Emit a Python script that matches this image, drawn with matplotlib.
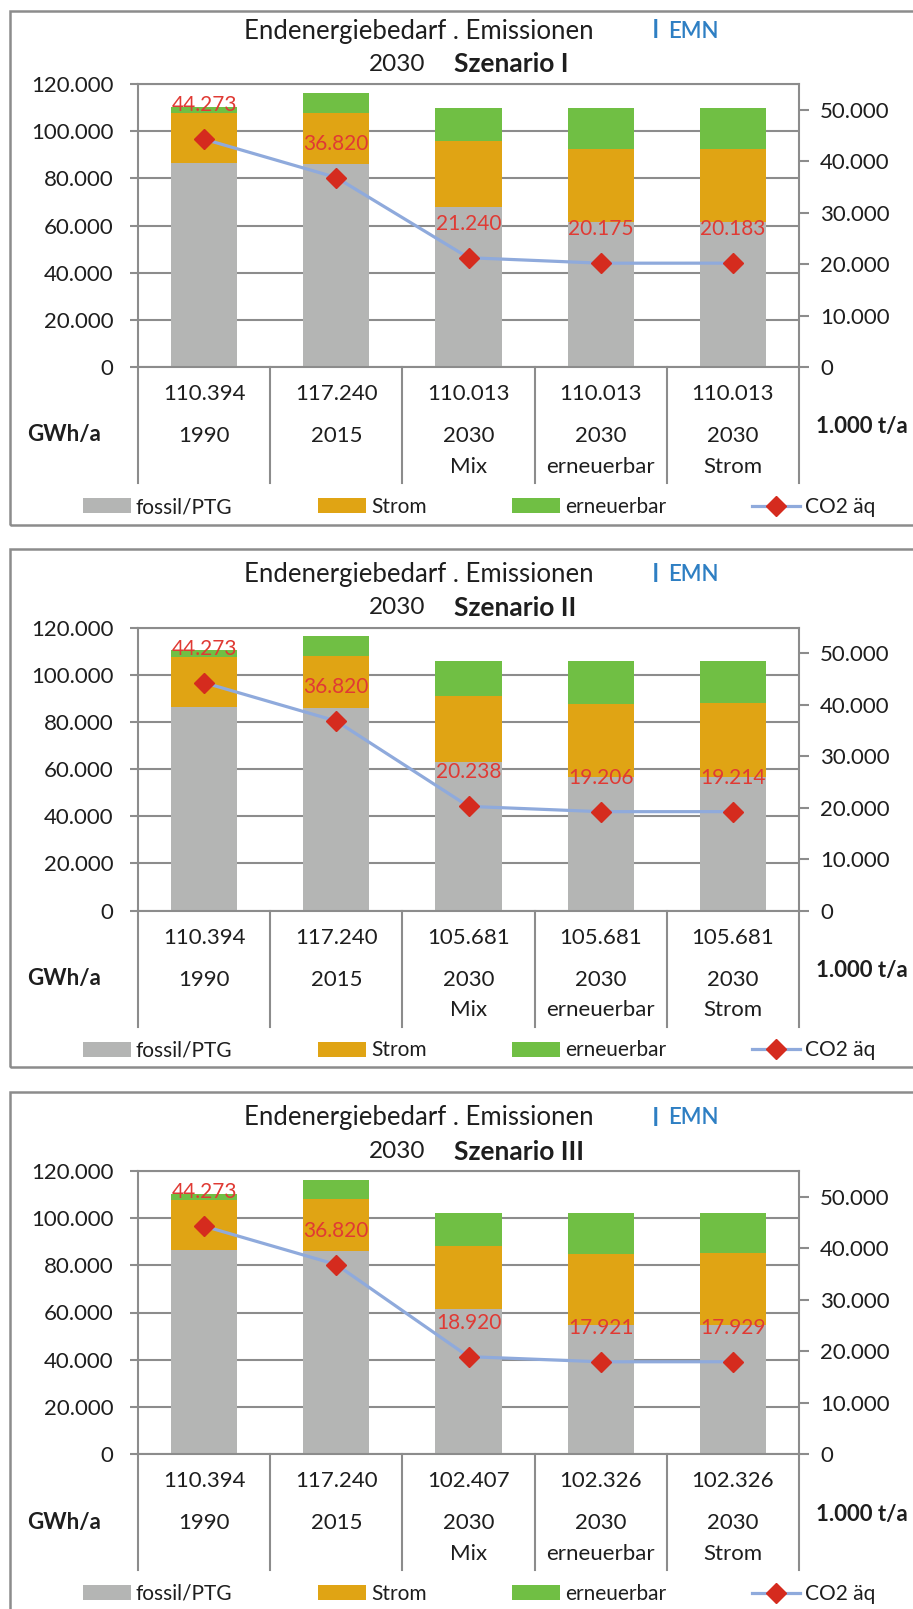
import matplotlib
import matplotlib.pyplot as plt
import matplotlib.transforms as mtransforms
import numpy as np
from matplotlib.lines import Line2D
from matplotlib.patches import Patch, Rectangle
from matplotlib.ticker import FuncFormatter

matplotlib.use("Agg")
plt.rcParams['font.family'] = ['Lato', 'DejaVu Sans']

# data (GWh/a and 1.000 t/a)
categories = ["1990", "2015", "2030\nMix", "2030\nerneuerbar", "2030\nStrom"]
scenario_names = ["Szenario I", "Szenario II", "Szenario III"]

fossil_I = [86500, 86000, 67900, 61300, 61300]
strom_I = [21200, 21900, 28000, 31100, 31100]
ern_I = [2700, 8400, 14100, 17600, 17600]
co2_I = [44273, 36820, 21240, 20175, 20183]
total_I = [110394, 117240, 110013, 110013, 110013]

fossil_II = [86500, 85900, 63100, 56700, 56700]
strom_II = [21200, 22000, 27900, 30800, 31400]
ern_II = [2700, 8400, 14700, 18200, 17600]
co2_II = [44273, 36820, 20238, 19206, 19214]
total_II = [110394, 117240, 105681, 105681, 105681]

fossil_III = [86500, 86000, 61300, 54800, 54800]
strom_III = [21200, 22000, 26700, 30100, 30500]
ern_III = [2700, 8300, 14400, 17400, 17000]
co2_III = [44273, 36820, 18920, 17921, 17929]
total_III = [110394, 117240, 102407, 102326, 102326]

legend_labels = ["fossil/PTG", "Strom", "erneuerbar", "CO2 äq"]

GRAY = "#b4b5b4"
ORANGE = "#e0a414"
GREEN = "#70bf44"
LINE = "#8faadc"
RED = "#d52b1e"
LBL = "#e03a34"
GRID = "#8c8c8c"
TXT = "#1e1e1e"
BLUE = "#2e7fc3"

W, H = 913, 1609


def de(v, pos=None):
    return f"{int(round(v)):,}".replace(",", ".")


def fy(py):
    return 1 - py / H


fig = plt.figure(figsize=(W / 100, H / 100), dpi=100)

bottoms = [367, 910.5, 1454]
frame_tops = [11, 549, 1092]
frame_bots = [525, 1067, 1640]

panels = [
    (fossil_I, strom_I, ern_I, co2_I, total_I),
    (fossil_II, strom_II, ern_II, co2_II, total_II),
    (fossil_III, strom_III, ern_III, co2_III, total_III),
]

x = np.arange(len(categories))

for i, (fossil, strom, ern, co2, total) in enumerate(panels):
    B = bottoms[i]

    # outer frame
    fig.add_artist(Rectangle((10 / W, fy(frame_bots[i])), 920 / W, (frame_bots[i] - frame_tops[i]) / H,
                             transform=fig.transFigure, fill=False, edgecolor=GRID, lw=1.8))

    ax = fig.add_axes([138 / W, fy(B), 661 / W, 283 / H])
    f = np.array(fossil)
    s = np.array(strom)
    ax.bar(x, f, width=0.5, color=GRAY, zorder=2)
    ax.bar(x, s, bottom=f, width=0.5, color=ORANGE, zorder=2)
    ax.bar(x, ern, bottom=f + s, width=0.5, color=GREEN, zorder=2)
    ax.set_xlim(-0.5, 4.5)
    ax.set_ylim(0, 120000)
    ax.set_yticks(range(0, 120001, 20000))
    ax.yaxis.set_major_formatter(FuncFormatter(de))
    ax.set_xticks([])
    ax.grid(axis='y', color=GRID, lw=1.5)
    ax.set_axisbelow(True)
    for sp in ax.spines.values():
        sp.set_color(GRID)
        sp.set_linewidth(1.5)
    ax.tick_params(axis='y', direction='out', length=5.8, width=1.5, color=GRID,
                   pad=12, labelsize=16, labelcolor=TXT)

    ax2 = ax.twinx()
    ax2.set_ylim(0, 55000)
    ax2.set_yticks(range(0, 50001, 10000))
    ax2.yaxis.set_major_formatter(FuncFormatter(de))
    for sp in ax2.spines.values():
        sp.set_visible(False)
    ax2.tick_params(axis='y', direction='out', length=7.2, width=1.5, color=GRID,
                    pad=8, labelsize=16, labelcolor=TXT)
    ax2.plot(x, co2, color=LINE, lw=2.3, marker='D', ms=10, mfc=RED, mec=RED, zorder=3)
    for xi, v in zip(x, co2):
        ax2.annotate(de(v), (xi, v), xytext=(0, 34), textcoords='offset pixels',
                     ha='center', va='center', color=LBL, fontsize=15)

    # category table below the axis
    trans = mtransforms.blended_transform_factory(ax.transData, fig.transFigure)
    for xb in np.arange(-0.5, 5.0, 1.0):
        fig.add_artist(Line2D([xb, xb], [fy(B), fy(B + 116)], transform=trans,
                              color=GRID, lw=1.5))
    for xi, cat, tot in zip(x, categories, total):
        fig.text(xi, fy(B + 27), de(tot), transform=trans, ha='center', va='center',
                 fontsize=16, color=TXT)
        parts = cat.split("\n")
        fig.text(xi, fy(B + 69), parts[0], transform=trans, ha='center', va='center',
                 fontsize=16, color=TXT)
        if len(parts) > 1:
            fig.text(xi, fy(B + 100), parts[1], transform=trans, ha='center', va='center',
                     fontsize=16, color=TXT)

    fig.text(64 / W, fy(B + 68), "GWh/a", ha='center', va='center', fontsize=16,
             fontweight='bold', color=TXT)
    fig.text(862 / W, fy(B + 60), "1.000 t/a", ha='center', va='center', fontsize=16,
             fontweight='bold', color=TXT)

    # titles
    fig.text(244 / W, fy(B - 336), "Endenergiebedarf . Emissionen", ha='left', va='center',
             fontsize=18.5, color=TXT)
    fig.text(656 / W, fy(B - 336), "I", ha='center', va='center', fontsize=18.5,
             fontweight='semibold', color=BLUE)
    fig.text(668 / W, fy(B - 336), "EMN", ha='left', va='center', fontsize=16,
             fontweight='semibold', color=BLUE)
    fig.text(397 / W, fy(B - 302.5), "2030", ha='center', va='center', fontsize=17.5, color=TXT)
    fig.text(454 / W, fy(B - 302.5), scenario_names[i], ha='left', va='center', fontsize=19,
             fontweight='bold', color=TXT)

    handles = [Patch(facecolor=GRAY), Patch(facecolor=ORANGE), Patch(facecolor=GREEN),
               Line2D([], [], color=LINE, lw=2.3, marker='D', ms=10, mfc=RED, mec=RED)]
    fig.legend(handles, legend_labels, loc='center', bbox_to_anchor=(479 / W, fy(B + 140)),
               ncol=4, frameon=False, fontsize=15, handlelength=2.3, handletextpad=0.25,
               columnspacing=4.1, labelcolor=TXT)

fig.savefig("out.png", dpi=100)
